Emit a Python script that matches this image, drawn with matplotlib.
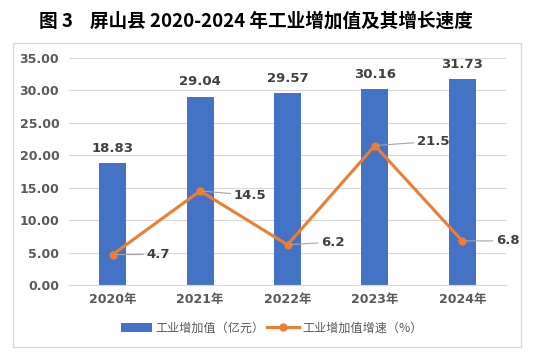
import matplotlib
matplotlib.use("Agg")
import matplotlib.pyplot as plt
from matplotlib.patches import Rectangle

plt.rcParams['font.family'] = ['DejaVu Sans', 'Noto Sans CJK SC']

years = ["2020年", "2021年", "2022年", "2023年", "2024年"]
value = [18.83, 29.04, 29.57, 30.16, 31.73]
growth = [4.7, 14.5, 6.2, 21.5, 6.8]
yticks = [0, 5, 10, 15, 20, 25, 30, 35]

W, H = 543, 362
fig = plt.figure(figsize=(W / 100, H / 100), dpi=100)

# outer chart border
fig.patches.append(Rectangle((13 / W, 1 - 347 / H), (521 - 13) / W, (347 - 43) / H,
                             transform=fig.transFigure, fill=False,
                             edgecolor='#D9D9D9', linewidth=1))

fig.text(256 / W, 1 - 21 / H, "图 3    屏山县 2020-2024 年工业增加值及其增长速度",
         ha='center', va='center', fontsize=13.4, fontweight='bold', color='black',
         family=['Noto Sans CJK SC', 'DejaVu Sans'])

ax = fig.add_axes([69 / W, 1 - 285 / H, (506 - 69) / W, (285 - 58) / H])
x = list(range(len(years)))
bars = ax.bar(x, value, width=0.31, color='#4472C4', zorder=2, label='工业增加值（亿元）')
line, = ax.plot(x, growth, color='#ED7D31', linewidth=2.2, marker='o', markersize=5,
                zorder=3, label='工业增加值增速（%）')

ax.set_ylim(0, 35)
ax.set_xlim(-0.5, len(years) - 0.5)
ax.set_yticks(yticks)
ax.set_yticklabels([f"{v:.2f}" for v in yticks])
ax.set_xticks(x)
ax.set_xticklabels(years)
for lab in ax.get_yticklabels() + ax.get_xticklabels():
    lab.set_fontweight('bold')
    lab.set_color('#595959')
    lab.set_fontsize(9)
ax.tick_params(length=0, pad=6)
ax.tick_params(axis='y', pad=7)
ax.grid(axis='y', color='#D9D9D9', linewidth=0.8, zorder=0)
for s in ['top', 'right', 'left']:
    ax.spines[s].set_visible(False)
ax.spines['bottom'].set_color('#D9D9D9')

for xi, v in zip(x, value):
    ax.annotate(f"{v:.2f}", (xi, v), xytext=(0, 6), textcoords='offset points',
                ha='center', va='bottom', fontsize=9.5, fontweight='bold', color='#404040')

offsets = [(24, 0), (24, -3), (24, 2), (30, 3), (24, 0)]
for xi, g, off in zip(x, growth, offsets):
    ax.annotate(f"{g}", (xi, g), xytext=off, textcoords='offset points',
                ha='left', va='center', fontsize=9.5, fontweight='bold', color='#404040',
                arrowprops=dict(arrowstyle='-', color='#A6A6A6', linewidth=0.8,
                                shrinkA=0, shrinkB=2))

fig.legend([bars, line], ['工业增加值（亿元）', '工业增加值增速（%）'],
           loc='center', bbox_to_anchor=(0.5, 1 - 328 / H), ncol=2, frameon=False,
           prop={'family': ['Noto Sans CJK SC', 'DejaVu Sans'], 'size': 8.7},
           labelcolor='#595959', handlelength=2.6, columnspacing=0.2,
           handletextpad=0.3)

fig.savefig("out.png", dpi=100)
